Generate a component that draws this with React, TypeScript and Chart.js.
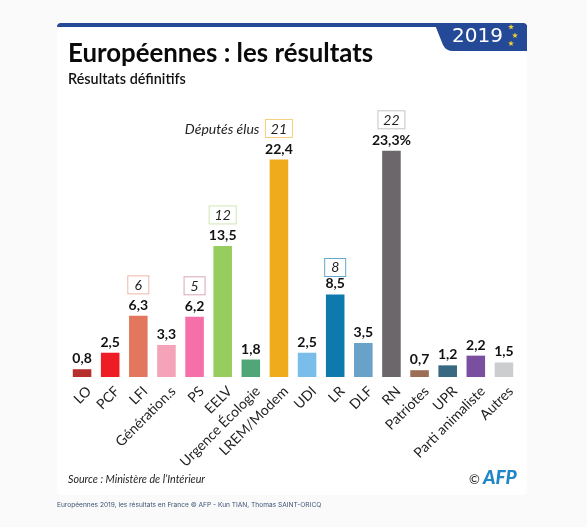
import { useEffect, useRef } from 'react';
import { Chart, registerables } from 'chart.js';

Chart.register(...registerables);

const parties = ['LO', 'PCF', 'LFI', 'Génération.s', 'PS', 'EELV', 'Urgence Écologie', 'LREM/Modem', 'UDI', 'LR', 'DLF', 'RN', 'Patriotes', 'UPR', 'Parti animaliste', 'Autres'];
const scores = [0.8, 2.5, 6.3, 3.3, 6.2, 13.5, 1.8, 22.4, 2.5, 8.5, 3.5, 23.3, 0.7, 1.2, 2.2, 1.5];
const seats = [null, null, 6, null, 5, 12, null, 21, null, 8, null, 22, null, null, null, null];
const barColors = ['#b5302a', '#ee1c25', '#e2775e', '#f5a3b9', '#f56fa8', '#97cc5f', '#50a677', '#efab1b', '#7abdea', '#0e79ad', '#6aa1c9', '#6c676b', '#9c6e58', '#396881', '#7b4f9f', '#cccdcf'];
const seatBorders = ['', '', '#f0b5a6', '', '#d9a5bd', '#cfe6b4', '', '#f5cf7d', '', '#62a6cc', '', '#c4c4c4', '', '', '', ''];

const FONT = 'Lato, "Noto Sans", sans-serif';

const star = (ctx: CanvasRenderingContext2D, x: number, y: number, r: number) => {
  ctx.beginPath();
  for (let i = 0; i < 10; i++) {
    const a = -Math.PI / 2 + (i * Math.PI) / 5;
    const d = i % 2 ? r * 0.42 : r;
    ctx.lineTo(x + Math.cos(a) * d, y + Math.sin(a) * d);
  }
  ctx.closePath();
  ctx.fill();
};

const text = (ctx: CanvasRenderingContext2D, s: string, x: number, y: number, font: string, color: string, align: CanvasTextAlign = 'left') => {
  ctx.font = font;
  ctx.fillStyle = color;
  ctx.textAlign = align;
  ctx.textBaseline = 'alphabetic';
  ctx.fillText(s, x, y);
};

// card, header tab and footer go under the chart
const background = {
  id: 'background',
  beforeDraw(chart: Chart) {
    const { ctx } = chart;
    ctx.save();
    ctx.fillStyle = '#fafafa';
    ctx.fillRect(0, 0, 587, 527);
    ctx.fillStyle = '#ffffff';
    ctx.beginPath();
    ctx.roundRect(57, 23, 470, 472, 5);
    ctx.fill();

    ctx.fillStyle = '#244a97';
    ctx.beginPath();
    ctx.roundRect(57, 23, 470, 4, [4, 4, 0, 0]);
    ctx.fill();
    ctx.beginPath();
    ctx.moveTo(435, 25);
    ctx.lineTo(527, 25);
    ctx.lineTo(527, 51);
    ctx.lineTo(453, 51);
    ctx.quadraticCurveTo(446, 51, 443, 45);
    ctx.closePath();
    ctx.fill();

    ctx.fillStyle = '#f6cf2f';
    star(ctx, 511, 27, 3);
    star(ctx, 515, 35.5, 3);
    star(ctx, 511, 43.5, 3);
    text(ctx, '2019', 452, 42, '20px "DejaVu Sans", sans-serif', '#ffffff');

    text(ctx, 'Européennes : les résultats', 68, 62, `700 25.8px ${FONT}`, '#0a0a0a');
    text(ctx, 'Résultats définitifs', 68, 84, `600 14.4px ${FONT}`, '#111111');
    text(ctx, 'Source : Ministère de l’Intérieur', 68, 483, `italic 10.7px ${FONT}`, '#222222');
    text(ctx, '©', 469, 484, `13px ${FONT}`, '#222222');
    text(ctx, 'AFP', 483, 484, `italic 900 19px ${FONT}`, '#1f86c8');
    text(ctx, 'Européennes 2019, les résultats en France © AFP - Kun TIAN, Thomas SAINT-ORICQ', 57, 507, '6.6px Inter, sans-serif', '#3c5272');
    ctx.restore();
  },
};

// score and seat labels sit on top of the bars
const barLabels = {
  id: 'barLabels',
  afterDatasetsDraw(chart: Chart) {
    const { ctx } = chart;
    const x = chart.scales.x;
    const y = chart.scales.y;
    ctx.save();
    scores.forEach((v, i) => {
      const cx = x.getPixelForValue(i);
      const top = y.getPixelForValue(v);
      const label = v.toFixed(1).replace('.', ',') + (i === 11 ? '%' : '');
      text(ctx, label, cx, top - 6, `700 14px ${FONT}`, '#111111', 'center');
      const n = seats[i];
      if (n === null) return;
      const w = n >= 10 ? 27 : 21;
      const bottom = top - (i === 9 ? 18 : 22);
      ctx.strokeStyle = seatBorders[i];
      ctx.lineWidth = 1;
      ctx.strokeRect(cx - w / 2, bottom - 18, w, 18);
      text(ctx, String(n), cx, bottom - 4, `italic 14px ${FONT}`, '#222222', 'center');
      if (i === 7) {
        text(ctx, 'Députés élus', cx - w / 2 - 6, bottom - 4, `italic 14px ${FONT}`, '#222222', 'right');
      }
    });
    ctx.restore();
  },
};

export default function App() {
  const canvasRef = useRef<HTMLCanvasElement>(null);

  useEffect(() => {
    if (!canvasRef.current) return;
    const chart = new Chart(canvasRef.current, {
      type: 'bar',
      data: {
        labels: parties,
        datasets: [{ data: scores, backgroundColor: barColors, barPercentage: 0.66, categoryPercentage: 1 }],
      },
      options: {
        responsive: false,
        animation: false,
        layout: { padding: { left: 68, right: 69, top: 144, bottom: 32 } },
        plugins: { legend: { display: false }, tooltip: { enabled: false } },
        scales: {
          x: {
            grid: { display: false },
            border: { display: false },
            afterFit: (s: any) => {
              s.height = 118;
            },
            ticks: {
              minRotation: 45,
              maxRotation: 45,
              autoSkip: false,
              padding: -2,
              labelOffset: 7,
              color: '#222222',
              font: { family: FONT, size: 14 },
            },
          },
          y: { display: false, min: 0, max: 24 },
        },
      },
      plugins: [background, barLabels],
    });
    return () => chart.destroy();
  }, []);

  return <canvas ref={canvasRef} width={587} height={527} style={{ position: 'fixed', left: 0, top: 0 }} />;
}
